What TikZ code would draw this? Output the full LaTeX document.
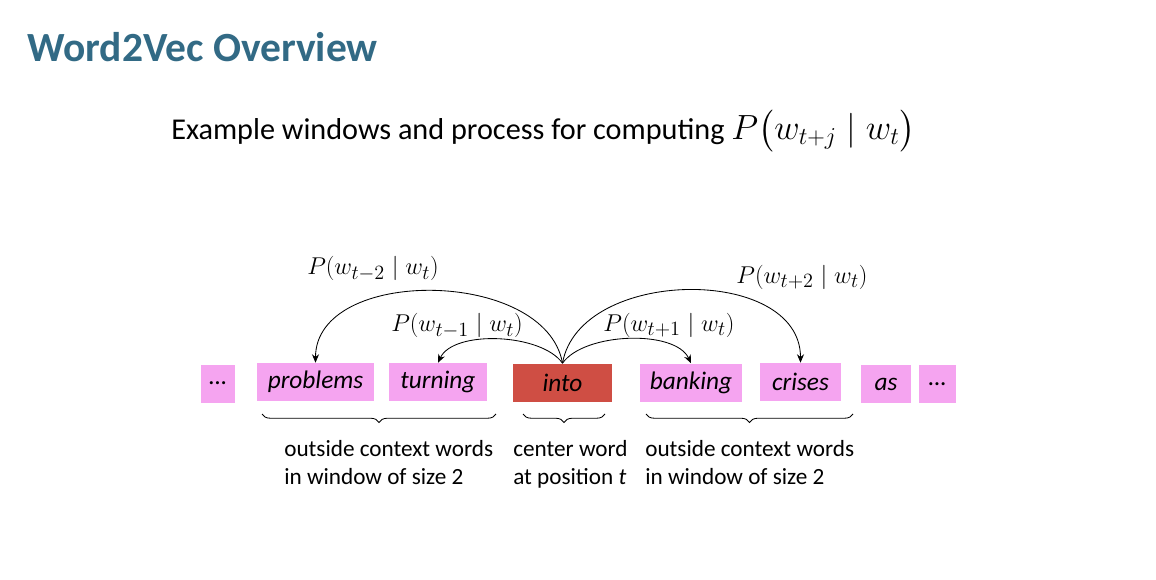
\documentclass[tikz,border=0pt]{standalone}
\usepackage{amsmath}
\usepackage{fontspec}
\setmainfont{Carlito}
\usetikzlibrary{arrows.meta,decorations.pathreplacing}

\definecolor{titleblue}{RGB}{50,106,133}
\definecolor{wordpink}{RGB}{245,164,240}
\definecolor{centerred}{RGB}{207,78,68}

\newcommand{\pxl}{0.025cm}

\tikzset{
  wordbox/.style={fill=wordpink, inner sep=0pt, minimum height=38*\pxl, font=\fontsize{18}{21}\selectfont\itshape},
  centerbox/.style={wordbox, fill=centerred},
  probarrow/.style={-{Stealth[length=6pt,width=5pt]}, line width=0.6pt},
  problabel/.style={font=\fontsize{19}{23}\selectfont},
  bracebelow/.style={decorate, decoration={brace, mirror, amplitude=6pt}, line width=0.6pt},
  windowtext/.style={anchor=north west, align=left, inner sep=0pt, font=\fontsize{16.5}{20}\selectfont}
}

\begin{document}
\begin{tikzpicture}[x=0.025cm, y=-0.025cm]
  \useasboundingbox (0,0) rectangle (1156,579);

  %Titel
  \node [anchor=west, inner sep=0pt, text=titleblue, font=\fontsize{29.5}{34}\selectfont\bfseries] (title) at (27,47) {Word2Vec Overview};
  \node [anchor=west, inner sep=0pt, font=\fontsize{21.5}{25}\selectfont] (subtitle) at (171,131) {Example windows and process for computing {\fontsize{24}{28}\selectfont$P\bigl(w_{t+j}\mid w_t\bigr)$}};

  %Woerter
  \node [wordbox, minimum width=34*\pxl] (dotsleft) at (218,383.5) {\dots};
  \node [wordbox, minimum width=117*\pxl] (problems) at (315.5,382) {problems};
  \node [wordbox, minimum width=98*\pxl] (turning) at (438,382) {turning};
  \node [centerbox, minimum width=99*\pxl] (into) at (562.5,382.5) {into};
  \node [wordbox, minimum width=102*\pxl] (banking) at (691,382.5) {banking};
  \node [wordbox, minimum width=81*\pxl] (crises) at (800.5,382) {crises};
  \node [wordbox, minimum width=50*\pxl] (as) at (886,384) {as};
  \node [wordbox, minimum width=37*\pxl] (dotsright) at (937.5,384) {\dots};

  %Pfeile
  \draw [probarrow] (into.north) to[out=100, in=90, looseness=1.0] (problems.north);
  \draw [probarrow] (into.north) to[out=125, in=65, looseness=0.75] (turning.north);
  \draw [probarrow] (into.north) to[out=55, in=115, looseness=0.75] (banking.north);
  \draw [probarrow] (into.north) to[out=80, in=90, looseness=1.05] (crises.north);

  %Wahrscheinlichkeiten
  \node [problabel] (pminus2) at (373,269) {$P(w_{t-2}\mid w_t)$};
  \node [problabel] (pminus1) at (457,326) {$P(w_{t-1}\mid w_t)$};
  \node [problabel] (pplus1) at (669,325) {$P(w_{t+1}\mid w_t)$};
  \node [problabel] (pplus2) at (802,277) {$P(w_{t+2}\mid w_t)$};

  %Klammern
  \draw [bracebelow] (262,414) -- (496,414);
  \draw [bracebelow] (523,414) -- (605,414);
  \draw [bracebelow] (646,414) -- (853,414);

  %Text unter den Klammern
  \node [windowtext] (lefttext) at (284,440) {outside context words\\in window of size 2};
  \node [windowtext] (centertext) at (513,440) {center word\\at position \textit{t}};
  \node [windowtext] (righttext) at (645,440) {outside context words\\in window of size 2};
\end{tikzpicture}
\end{document}
